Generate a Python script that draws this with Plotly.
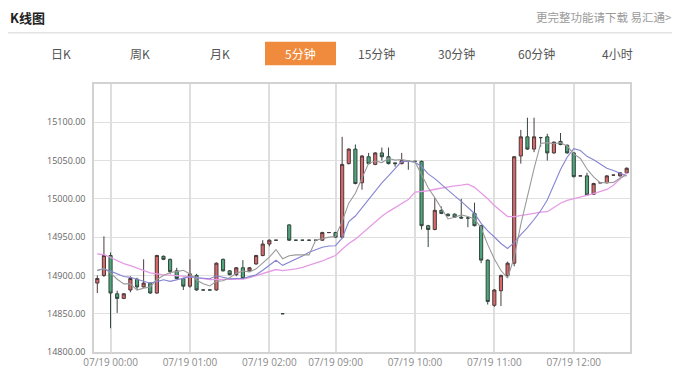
import plotly.graph_objects as go
import pandas as pd

# ---- data (5-minute candles, 07/18 23:50 -> 07/19 12:40, with session gap) ----
times = [t.strftime("%m/%d %H:%M") for t in
         list(pd.date_range("2024-07-18 23:50", "2024-07-19 02:45", freq="5min")) +
         list(pd.date_range("2024-07-19 09:00", "2024-07-19 12:40", freq="5min"))]

opens = [14890, 14900, 14926, 14876, 14870, 14881, 14895, 14885, 14890, 14877,
         14925, 14921, 14906, 14896, 14886, 14900, 14881, 14881, 14881, 14921,
         14906, 14901, 14910, 14906, 14915, 14926, 14941, 14946, 14850, 14966,
         14946, 14946, 14946, 14946, 14946, 14956, 14956, 14950, 15046, 15065,
         15021, 15055, 15045, 15060, 15055, 15047, 15046, 15049, 15049, 15049,
         14965, 14960, 14985, 14980, 14980, 14976, 14975, 14981, 14965, 14920,
         14861, 14880, 14900, 14916, 15056, 15081, 15065, 15080, 15081, 15060,
         15075, 15070, 15060, 15030, 15030, 15006, 15021, 15021, 15031, 15030,
         15034]
highs = [14900, 14951, 14930, 14880, 14877, 14899, 14897, 14921, 14891, 14927,
         14926, 14922, 14910, 14897, 14921, 14902, 14881, 14881, 14917, 14922,
         14907, 14911, 14920, 14911, 14927, 14946, 14947, 14946, 14850, 14967,
         14946, 14946, 14946, 14946, 14957, 14956, 14957, 15081, 15066, 15071,
         15057, 15060, 15061, 15067, 15067, 15047, 15060, 15050, 15049, 15050,
         14966, 15001, 14990, 14981, 14981, 15000, 14976, 14995, 14966, 14921,
         14882, 14901, 14918, 15056, 15090, 15106, 15106, 15081, 15085, 15075,
         15086, 15071, 15061, 15030, 15034, 15021, 15021, 15031, 15031, 15035,
         15041]
lows = [14877, 14898, 14831, 14851, 14869, 14878, 14881, 14884, 14876, 14876,
        14920, 14902, 14895, 14881, 14884, 14880, 14881, 14881, 14880, 14905,
        14900, 14899, 14895, 14905, 14914, 14925, 14938, 14946, 14850, 14945,
        14946, 14946, 14946, 14946, 14945, 14956, 14949, 14948, 15045, 15019,
        15012, 15045, 15044, 15050, 15045, 15042, 15045, 15038, 15049, 14960,
        14937, 14959, 14980, 14977, 14975, 14974, 14963, 14964, 14916, 14862,
        14859, 14860, 14898, 14912, 15046, 15064, 15061, 15068, 15050, 15059,
        15070, 15059, 15028, 15030, 15004, 15005, 15021, 15020, 15031, 15029,
        15033]
closes = [14896, 14926, 14877, 14870, 14876, 14896, 14885, 14890, 14877, 14926,
          14921, 14905, 14896, 14886, 14902, 14881, 14881, 14881, 14916, 14906,
          14901, 14910, 14896, 14910, 14926, 14941, 14946, 14946, 14850, 14946,
          14946, 14946, 14946, 14946, 14956, 14956, 14950, 15045, 15065, 15020,
          15056, 15046, 15060, 15055, 15046, 15046, 15050, 15049, 15049, 14965,
          14960, 14985, 14981, 14978, 14976, 14975, 14975, 14965, 14920, 14866,
          14881, 14900, 14916, 15055, 15081, 15065, 15081, 15080, 15060, 15074,
          15071, 15060, 15029, 15030, 15005, 15020, 15021, 15030, 15031, 15034,
          15040]
# closes before the visible window (only feed the moving averages)
prior_closes = [14945, 14950, 14955, 14952, 14948, 14950, 14946, 14944, 14950, 14950,
                14912, 14905, 14910, 14906, 14907, 14910, 14906, 14912, 14906]

y_ticks = [14800, 14850, 14900, 14950, 15000, 15050, 15100]
x_tick_labels = ["07/19 00:00", "07/19 01:00", "07/19 02:00", "07/19 09:00",
                 "07/19 10:00", "07/19 11:00", "07/19 12:00"]
tabs = ["日K", "周K", "月K", "5分钟", "15分钟", "30分钟", "60分钟", "4小时"]

# ---- moving averages ----
allc = pd.Series(prior_closes + closes)
n = len(closes)
ma5 = allc.rolling(5).mean().iloc[-n:].tolist()
ma10 = allc.rolling(10).mean().iloc[-n:].tolist()
ma20 = allc.rolling(20).mean().iloc[-n:].tolist()

fig = go.Figure()
fig.add_trace(go.Candlestick(
    x=times, open=opens, high=highs, low=lows, close=closes,
    increasing=dict(fillcolor="#d9686c", line=dict(color="#4a3a3a", width=1)),
    decreasing=dict(fillcolor="#4fa57c", line=dict(color="#34463e", width=1)),
    whiskerwidth=0, showlegend=False, hoverinfo="skip"))
for vals, col, w in [(ma20, "#e69be6", 1.3), (ma10, "#8585d2", 1.1), (ma5, "#9a9a9a", 1.1)]:
    fig.add_trace(go.Scatter(x=times, y=vals, mode="lines",
                             line=dict(color=col, width=w), showlegend=False,
                             hoverinfo="skip"))

# page offset: the html body adds an 8px margin, so the figure is drawn 8px in/down
OFF = 8
W, H = 680 - OFF, 381 - OFF
L, T = 94 - OFF, 84 - OFF
R = W - (630 - OFF)
B = H - (356 - OFF)
pw, ph = W - L - R, H - T - B
def px(x): return (x - OFF - L) / pw          # page x -> paper
def py(y): return (H - B - (y - OFF)) / ph    # page y -> paper

tick_idx = [times.index(lbl) for lbl in x_tick_labels]

fig.update_layout(
    width=W, height=H, margin=dict(l=L, r=R, t=T, b=B),
    paper_bgcolor="white", plot_bgcolor="white", boxgap=0.32,
    font=dict(family="Open Sans, Noto Sans CJK SC", color="#666"),
    xaxis=dict(type="category", range=[-0.5, n - 0.5], rangeslider=dict(visible=False),
               tickmode="array", tickvals=[times[i] for i in tick_idx],
               ticktext=x_tick_labels, showgrid=True, gridcolor="#dedede", gridwidth=1.5,
               showline=True, linecolor="#d2d2d2", linewidth=1.5, mirror=True,
               ticks="", tickfont=dict(size=10, color="#8a8a8a"), fixedrange=True),
    yaxis=dict(range=[14800, 15150], tickmode="array", tickvals=y_ticks,
               tickformat=".2f", showgrid=True, gridcolor="#e0e0e0", gridwidth=1.2,
               showline=True, linecolor="#d2d2d2", linewidth=1.5, mirror=True,
               ticks="", ticklabelstandoff=5, tickfont=dict(size=9, color="#666"),
               zeroline=False, fixedrange=True),
)

cjk = "Noto Sans CJK SC"
ann = [
    dict(text="<b>K线图</b>", x=px(8), y=py(16), xanchor="left", yanchor="middle",
         font=dict(family=cjk, size=13, color="#222")),
    dict(text="更完整功能请下载 易汇通>", x=px(673), y=py(16), xanchor="right",
         yanchor="middle", font=dict(family=cjk, size=11.5, color="#9a9a9a")),
]
tab_x = [61, 140, 220, 300, 376, 456, 536, 617]
for t, tx in zip(tabs, tab_x):
    active = t == "5分钟"
    ann.append(dict(text=t, x=px(tx), y=py(53), xanchor="center", yanchor="middle",
                    font=dict(family=cjk, size=12, color="white" if active else "#555")))
for a in ann:
    a.update(xref="paper", yref="paper", showarrow=False)
fig.update_layout(annotations=ann)
fig.update_layout(shapes=[
    dict(type="line", xref="paper", yref="paper", x0=px(5), x1=px(675), y0=py(32), y1=py(32),
         line=dict(color="#e3e3e3", width=1.5)),
    dict(type="rect", xref="paper", yref="paper", x0=px(265), x1=px(336), y0=py(65), y1=py(41),
         fillcolor="#f08a3c", line=dict(width=0), layer="below"),
])

fig.write_html("out.html")
